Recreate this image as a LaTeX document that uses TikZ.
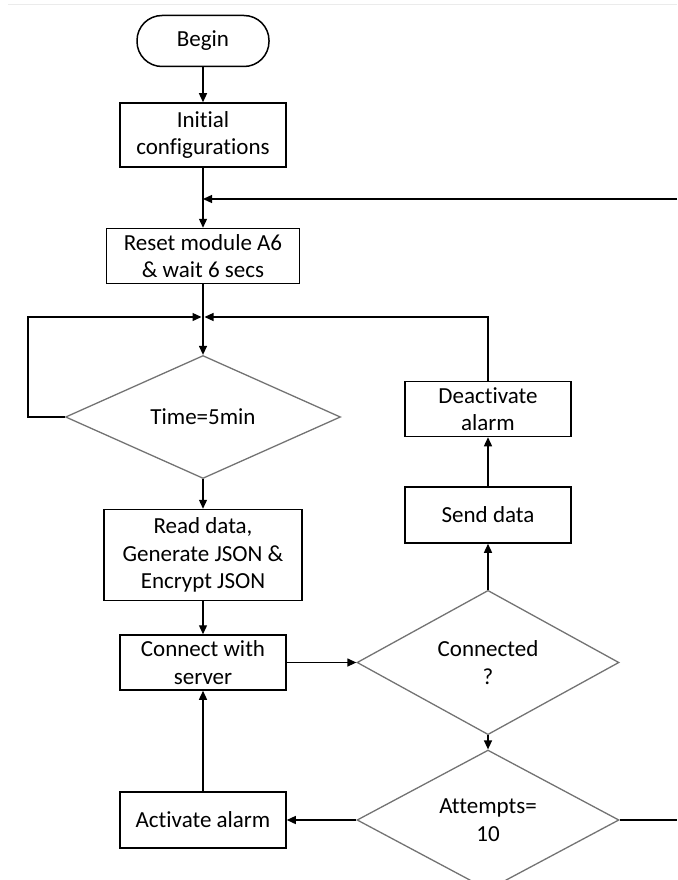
\documentclass[tikz,border=0pt]{standalone}
\usepackage{fontspec}
\setmainfont{Carlito}[Ligatures=NoCommon]
\usetikzlibrary{shapes.geometric,arrows.meta}
\begin{document}
\begin{tikzpicture}[x=1pt,y=-1pt,
  every node/.style={font=\fontsize{23}{27.5}\selectfont, align=center, inner sep=0pt},
  box/.style={draw, line width=1.5pt, rectangle},
  term/.style={draw, line width=1.5pt, rectangle, rounded corners=25pt},
  dec/.style={draw=black!55, line width=1.3pt, diamond},
  conn/.style={line width=1.3pt},
  arr/.style={conn, -{Triangle[length=9pt,width=8pt]}}]
\useasboundingbox (0,0) rectangle (677,880);
\draw[black!8, line width=1pt] (8,5) -- (677,5);
\node[term, minimum width=132pt, minimum height=51pt] (begin) at (203,41) {Begin};
\node[box, minimum width=166pt, minimum height=64pt] (init) at (203,135) {Initial\\configurations};
\node[box, minimum width=193pt, minimum height=55pt] (reset) at (203,256) {Reset module A6\\\& wait 6 secs};
\node[dec, minimum width=275pt, minimum height=123pt] (time) at (203,417) {Time=5min};
\node[box, minimum width=166pt, minimum height=55pt] (deact) at (488,409) {Deactivate\\alarm};
\node[box, minimum width=166pt, minimum height=56pt] (send) at (488,515) {Send data};
\node[box, minimum width=198pt, minimum height=91pt] (read) at (203,555) {Read data,\\Generate JSON \&\\Encrypt JSON};
\node[box, minimum width=166pt, minimum height=55pt] (connect) at (203,662.5) {Connect with\\server};
\node[dec, minimum width=262pt, minimum height=122pt] (conn) at (488,662.5) {Connected\\?};
\node[dec, minimum width=262pt, minimum height=122pt] (att) at (488,820) {Attempts=\\10};
\node[box, minimum width=166pt, minimum height=56pt] (alarm) at (203,820) {Activate alarm};
\coordinate (j1) at (203,199);
\coordinate (j2) at (203,317);
\coordinate (eR1) at (677,199);
\coordinate (eR2) at (677,820);
\coordinate (lx) at (28,417);
\draw[arr] (begin) -- (init);
\draw[conn] (init) -- (j1);
\draw[arr] (eR1) -- (j1);
\draw[arr] (j1) -- (reset);
\draw[conn] (reset) -- (j2);
\draw[arr, shorten >=1.5pt] (time.west) -- (lx) |- (j2);
\draw[arr, shorten >=1.5pt] (deact.north) |- (j2);
\draw[arr] (j2) -- (time.north);
\draw[arr] (time.south) -- (read.north);
\draw[arr] (read) -- (connect);
\draw[arr] (connect.east) -- (conn.west);
\draw[arr] (conn.north) -- (send.south);
\draw[arr] (send) -- (deact);
\draw[arr] (conn.south) -- (att.north);
\draw[arr] (att.west) -- (alarm.east);
\draw[arr] (alarm) -- (connect);
\draw[conn] (att.east) -- (eR2);
\end{tikzpicture}
\end{document}
